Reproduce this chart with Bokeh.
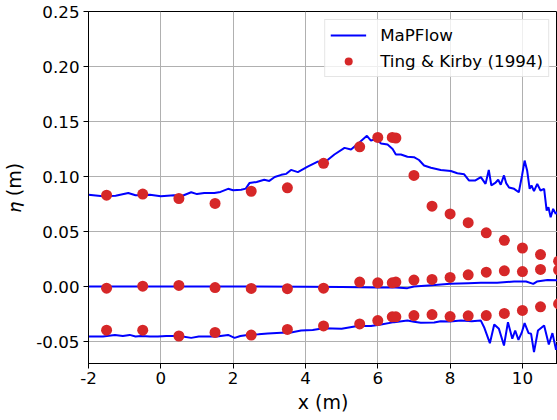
from bokeh.plotting import figure
from bokeh.models import FixedTicker, NumeralTickFormatter, Range1d
from bokeh.embed import file_html
from bokeh.resources import INLINE

# ---- data: Ting & Kirby (1994) measurements ----
ting_x = [-1.5, -0.5, 0.5, 1.5, 2.5, 3.5, 4.5, 5.5, 6.0, 6.4, 6.5, 7.0, 7.5, 8.0,
          8.5, 9.0, 9.5, 10.0, 10.5, 11.0]
ting_crest = [0.083, 0.084, 0.080, 0.0755, 0.0866, 0.0897, 0.112, 0.127, 0.1355, 0.1355,
              0.135, 0.101, 0.073, 0.066, 0.058, 0.0488, 0.042, 0.035, 0.029, 0.023]
ting_mean = [-0.0015, 0.0003, 0.001, -0.001, -0.0018, -0.002, -0.0015, 0.004, 0.0033, 0.0033,
             0.004, 0.0058, 0.0064, 0.0082, 0.0106, 0.013, 0.0143, 0.0136, 0.0155, 0.015]
ting_trough = [-0.0397, -0.0397, -0.045, -0.0418, -0.0442, -0.039, -0.0358, -0.034, -0.031,
               -0.0276, -0.0276, -0.0264, -0.0255, -0.0273, -0.0267, -0.0264, -0.0245,
               -0.0218, -0.0185, -0.0158]

# ---- data: MaPFlow ----
crest_x = [-2, -1.6, -1.25, -0.9, -0.7, -0.54, -0.3, 0.0, 0.37, 0.6, 0.84, 1.0, 1.2, 1.48,
           1.65, 1.86, 2.0, 2.22, 2.35, 2.45, 2.65, 2.86, 3.0, 3.15, 3.33, 3.47, 3.6, 3.79,
           4.06, 4.34, 4.5, 4.8, 5.08, 5.26, 5.49, 5.7, 5.81, 5.95, 6.09, 6.27, 6.41, 6.5,
           6.64, 6.82, 7.0, 7.14, 7.28, 7.47, 7.74, 8.02, 8.2, 8.39, 8.52, 8.7, 8.85, 8.98,
           9.07, 9.14, 9.26, 9.33, 9.4, 9.49, 9.55, 9.63, 9.77, 9.9, 9.99, 10.06, 10.13,
           10.2, 10.25, 10.32, 10.41, 10.5, 10.6, 10.67, 10.72, 10.78, 10.85, 10.92, 11.0]
crest_y = [0.0834, 0.082, 0.0825, 0.085, 0.083, 0.083, 0.0835, 0.082, 0.083, 0.0825, 0.0857,
           0.084, 0.085, 0.085, 0.086, 0.0888, 0.0875, 0.088, 0.089, 0.094, 0.095, 0.097,
           0.096, 0.0995, 0.1015, 0.1024, 0.106, 0.104, 0.109, 0.1136, 0.112, 0.12, 0.126,
           0.1245, 0.131, 0.137, 0.1327, 0.134, 0.130, 0.129, 0.125, 0.12, 0.12, 0.118,
           0.1176, 0.115, 0.11, 0.108, 0.106, 0.105, 0.103, 0.102, 0.0964, 0.0964, 0.0994,
           0.0933, 0.106, 0.092, 0.0945, 0.097, 0.0925, 0.101, 0.094, 0.090, 0.0888, 0.0857,
           0.101, 0.1145, 0.1055, 0.0888, 0.0918, 0.0867, 0.0933, 0.0873, 0.0888, 0.069,
           0.072, 0.063, 0.0706, 0.066, 0.069]

mean_x = [-2, 2, 4, 5, 6, 6.5, 6.82, 7.0, 7.5, 8.0, 8.5, 8.85, 9.3, 9.77, 10.1, 10.3,
          10.4, 10.69, 11.0]
mean_y = [0.0, 0.0, -0.0003, -0.0005, -0.0008, -0.001, -0.0015, 0.0, 0.0012, 0.0024, 0.003,
          0.0033, 0.0035, 0.0045, 0.0045, 0.0024, 0.0045, 0.006, 0.0055]

trough_x = [-2, -1.6, -1.27, -1.05, -0.86, -0.7, -0.54, -0.3, -0.08, 0.15, 0.38, 0.6, 0.84,
            1.05, 1.3, 1.55, 1.86, 2.04, 2.2, 2.4, 2.7, 2.96, 3.33, 3.6, 3.88, 4.2, 4.5,
            5.0, 5.44, 5.81, 6.09, 6.45, 6.82, 7.0, 7.19, 7.56, 7.74, 8.0, 8.3, 8.6, 8.85,
            8.94, 9.1, 9.22, 9.35, 9.49, 9.6, 9.72, 9.8, 9.89, 9.98, 10.06, 10.17, 10.24,
            10.32, 10.43, 10.6, 10.73, 10.83, 10.93, 11.0]
trough_y = [-0.0455, -0.0455, -0.044, -0.045, -0.044, -0.0455, -0.045, -0.0455, -0.0455,
            -0.045, -0.045, -0.0455, -0.0467, -0.0455, -0.0455, -0.0455, -0.044, -0.0467,
            -0.045, -0.044, -0.0435, -0.0427, -0.042, -0.0418, -0.040, -0.0395, -0.038,
            -0.0385, -0.036, -0.036, -0.0345, -0.0324, -0.031, -0.032, -0.033, -0.0327,
            -0.0315, -0.0318, -0.031, -0.0315, -0.031, -0.037, -0.0515, -0.0345, -0.0385,
            -0.0536, -0.0324, -0.0474, -0.040, -0.0485, -0.042, -0.0333, -0.0424, -0.043,
            -0.0597, -0.040, -0.0355, -0.0527, -0.0424, -0.0575, -0.050]

x_ticks = [-2, 0, 2, 4, 6, 8, 10]
y_ticks = [-0.05, 0.0, 0.05, 0.10, 0.15, 0.20, 0.25]

FONT = "DejaVu Sans"

p = figure(width=557, height=420, output_backend="svg", toolbar_location=None,
           x_range=Range1d(-2, 10.97), y_range=Range1d(-0.07, 0.25),
           min_border_left=87, min_border_right=0, min_border_top=11, min_border_bottom=57)
p.background_fill_color = "white"
p.border_fill_color = "white"
p.outline_line_color = "black"
p.outline_line_width = 1

line_color = "#0000ff"
dot_color = "#d62728"

p.line(crest_x, crest_y, line_color=line_color, line_width=2, legend_label="MaPFlow")
p.line(mean_x, mean_y, line_color=line_color, line_width=2)
p.line(trough_x, trough_y, line_color=line_color, line_width=2)

p.scatter(ting_x, ting_crest, size=11, fill_color=dot_color, line_color=None,
          legend_label="Ting & Kirby (1994)")
p.scatter(ting_x, ting_mean, size=11, fill_color=dot_color, line_color=None)
p.scatter(ting_x, ting_trough, size=11, fill_color=dot_color, line_color=None)

# axes
p.xaxis.ticker = FixedTicker(ticks=x_ticks)
p.yaxis.ticker = FixedTicker(ticks=y_ticks)
p.xaxis.formatter = NumeralTickFormatter(format="0")
p.yaxis.formatter = NumeralTickFormatter(format="0.00")
p.xaxis.axis_label = "x (m)"
p.yaxis.axis_label = "\U0001D702 (m)"
for ax in (p.xaxis, p.yaxis):
    ax.axis_line_color = "black"
    ax.major_tick_line_color = "black"
    ax.major_tick_out = 5
    ax.major_tick_in = 0
    ax.minor_tick_line_color = None
    ax.major_label_text_font = FONT
    ax.major_label_text_font_size = "16.7px"
    ax.major_label_text_color = "black"
    ax.axis_label_text_font = FONT
    ax.axis_label_text_font_size = "19px"
    ax.axis_label_text_font_style = "normal"
    ax.axis_label_text_color = "black"
p.xaxis.major_label_standoff = 3
p.yaxis.major_label_standoff = 4
p.xaxis.axis_label_standoff = 4
p.yaxis.axis_label_standoff = 8

p.grid.grid_line_color = "#b0b0b0"
p.grid.grid_line_width = 1

# legend
lg = p.legend[0]
lg.location = "top_right"
lg.margin = 8
lg.padding = 5
lg.spacing = 6
lg.glyph_width = 36
lg.glyph_height = 20
lg.label_height = 20
lg.label_standoff = 14
lg.label_text_font = FONT
lg.label_text_font_size = "16.7px"
lg.label_text_color = "black"
lg.border_line_color = "#cccccc"
lg.border_line_width = 1
lg.background_fill_alpha = 0.8

open("out.html", "w").write(file_html(p, INLINE))
